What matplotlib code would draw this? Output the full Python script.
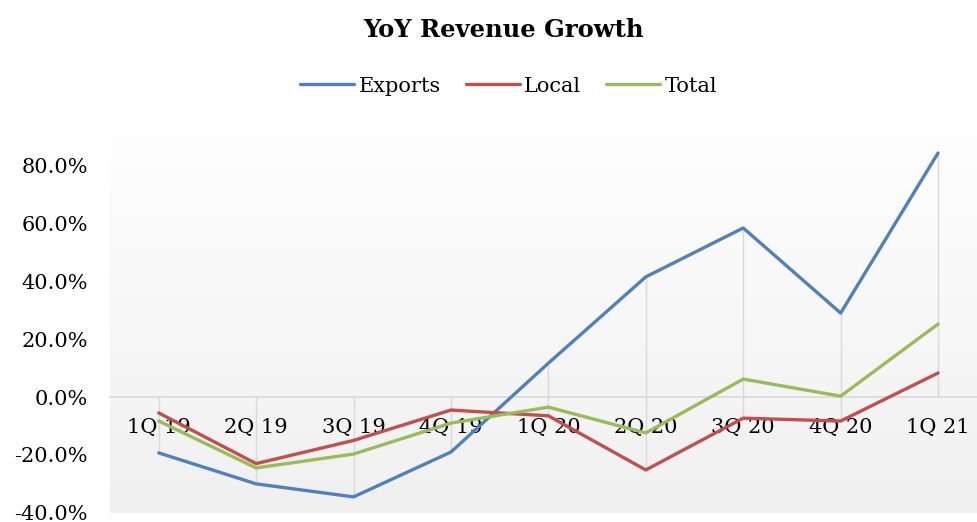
import numpy as np
import matplotlib
matplotlib.use("Agg")
import matplotlib.pyplot as plt
from matplotlib.colors import LinearSegmentedColormap

quarters = ["1Q 19", "2Q 19", "3Q 19", "4Q 19", "1Q 20", "2Q 20", "3Q 20", "4Q 20", "1Q 21"]
exports = [-0.193, -0.300, -0.345, -0.190, 0.117, 0.415, 0.584, 0.290, 0.843]
local = [-0.055, -0.230, -0.150, -0.045, -0.065, -0.252, -0.073, -0.083, 0.083]
total = [-0.083, -0.245, -0.197, -0.090, -0.035, -0.124, 0.062, 0.003, 0.252]
yticks = [-0.4, -0.2, 0.0, 0.2, 0.4, 0.6, 0.8]

plt.rcParams["font.family"] = ["DejaVu Serif"]

fig = plt.figure(figsize=(9.78, 5.22), dpi=100)
ax = fig.add_axes([0.1125, 0.0176, 0.8875, 0.7764])

x = np.arange(len(quarters))
xmin, xmax = -0.5, 8.41
ymin, ymax = -0.4, 1.0

# gradient plot-area fill, white at top to light grey at bottom
cmap = LinearSegmentedColormap.from_list("bg", ["#ffffff", "#f0f0f0"])
grad = np.linspace(1, 0, 256).reshape(-1, 1)
ax.imshow(grad, cmap=cmap, aspect="auto", extent=[xmin, xmax, ymin, ymax],
          origin="lower", zorder=0, vmin=0, vmax=1)
ax.set_xlim(xmin, xmax)
ax.set_ylim(ymin, ymax)

# drop lines
vals = np.array([exports, local, total])
lo = np.minimum(vals.min(axis=0), 0)
hi = np.maximum(vals.max(axis=0), 0)
ax.vlines(x, lo, hi, color="#d9d9d9", lw=1, zorder=1)

ax.plot(x, exports, color="#4F81BD", lw=2.4, label="Exports", zorder=3,
        solid_capstyle="round")
ax.plot(x, local, color="#C0504D", lw=2.4, label="Local", zorder=3,
        solid_capstyle="round")
ax.plot(x, total, color="#9BBB59", lw=2.4, label="Total", zorder=3,
        solid_capstyle="round")

for s in ["top", "right", "left"]:
    ax.spines[s].set_visible(False)
ax.spines["bottom"].set_position(("data", 0))
ax.spines["bottom"].set_color("#d9d9d9")
ax.spines["bottom"].set_linewidth(1.2)

ax.set_xticks(x)
ax.set_xticklabels(quarters, fontsize=15)
ax.set_yticks(yticks)
ax.set_yticklabels(["%.1f%%" % (v * 100) for v in yticks], fontsize=15)
ax.tick_params(axis="x", length=0, pad=15)
ax.tick_params(axis="y", length=0, pad=16)

fig.text(0.515, 1 - 30 / 522, "YoY Revenue Growth", ha="center", va="center",
         fontsize=17.5, fontweight="bold")
fig.legend(loc="center", bbox_to_anchor=(0.52, 1 - 86 / 522), ncol=3,
           frameon=False, fontsize=15, handlelength=2.6, handletextpad=0.2,
           columnspacing=1.2)

fig.savefig("out.png", dpi=100)
